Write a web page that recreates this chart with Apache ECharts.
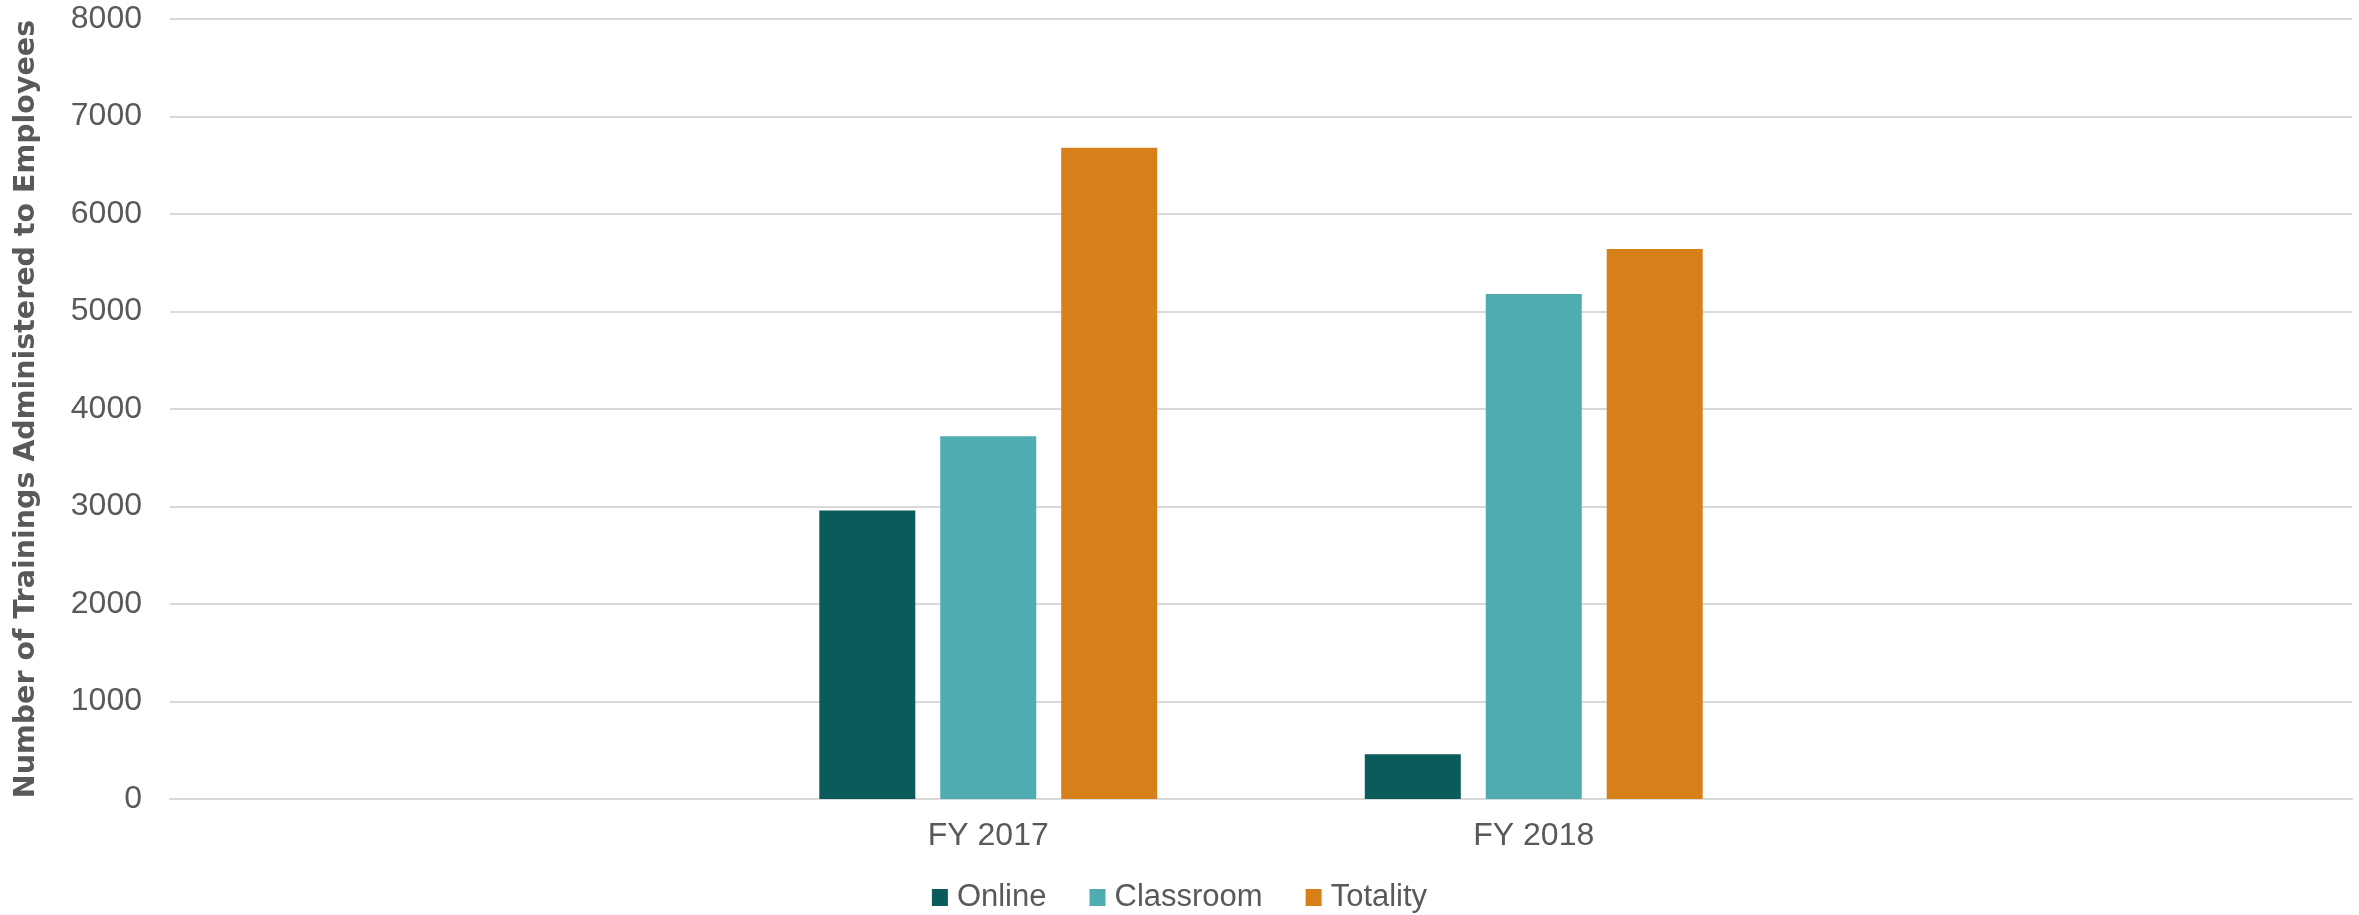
<!DOCTYPE html>
<html>
<head>
<meta charset="utf-8">
<title>Trainings</title>
<script src="https://cdn.jsdelivr.net/npm/echarts@6/dist/echarts.min.js"></script>
<style>
  html, body { margin: 0; padding: 0; background: #fff; }
  #chart { width: 2359px; height: 915px; }
</style>
</head>
<body>
<div id="chart"></div>
<script>
(function (echarts) {

    // empty first and last slots, like the source chart
    var categories = ["", "FY 2017", "FY 2018", ""];
    var onlineData = ["-", 2960, 460, "-"];
    var classroomData = ["-", 3720, 5180, "-"];
    var totalityData = ["-", 6680, 5640, "-"];
    var yTitle = "Number of Trainings Administered to Employees";

    var textColor = "#595959";
    var gridColor = "#d9d9d9";

    var chart = echarts.init(document.getElementById("chart"));
    var option = {
        animation: false,
        color: ["#0b5b5b", "#4fadb2", "#d7801a"],
        textStyle: { fontFamily: "Liberation Sans, Arial, sans-serif" },
        grid: { left: 170, right: 7, top: 19, bottom: 116, outerBoundsMode: "none" },
        legend: {
            data: ["Online", "Classroom", "Totality"],
            left: "center",
            top: 877,
            icon: "rect",
            itemWidth: 16,
            itemHeight: 17,
            itemGap: 43,
            textStyle: { color: textColor, fontSize: 31, padding: [0, 0, 0, 4] }
        },
        xAxis: {
            type: "category",
            data: categories,
            axisTick: { show: false },
            axisLine: { lineStyle: { color: gridColor, width: 2 } },
            axisLabel: { color: textColor, fontSize: 32, margin: 21 }
        },
        yAxis: {
            type: "value",
            min: 0,
            max: 8000,
            interval: 1000,
            name: yTitle,
            nameLocation: "middle",
            nameGap: 129,
            nameTextStyle: {
                color: textColor,
                fontSize: 28.5,
                fontWeight: "bold",
                fontFamily: "DejaVu Sans"
            },
            axisLine: { show: false },
            axisTick: { show: false },
            axisLabel: {
                color: textColor,
                fontSize: 32,
                margin: 28,
                formatter: function (v) { return String(v); }
            },
            splitLine: { lineStyle: { color: gridColor, width: 2 } }
        },
        series: [{
            name: "Online",
            type: "bar",
            data: onlineData,
            barWidth: 96,
            barGap: "26%"
        }, {
            name: "Classroom",
            type: "bar",
            data: classroomData,
            barWidth: 96,
            barGap: "26%"
        }, {
            name: "Totality",
            type: "bar",
            data: totalityData,
            barWidth: 96,
            barGap: "26%"
        }]
    };

    chart.setOption(option);

})(echarts);
</script>
</body>
</html>
